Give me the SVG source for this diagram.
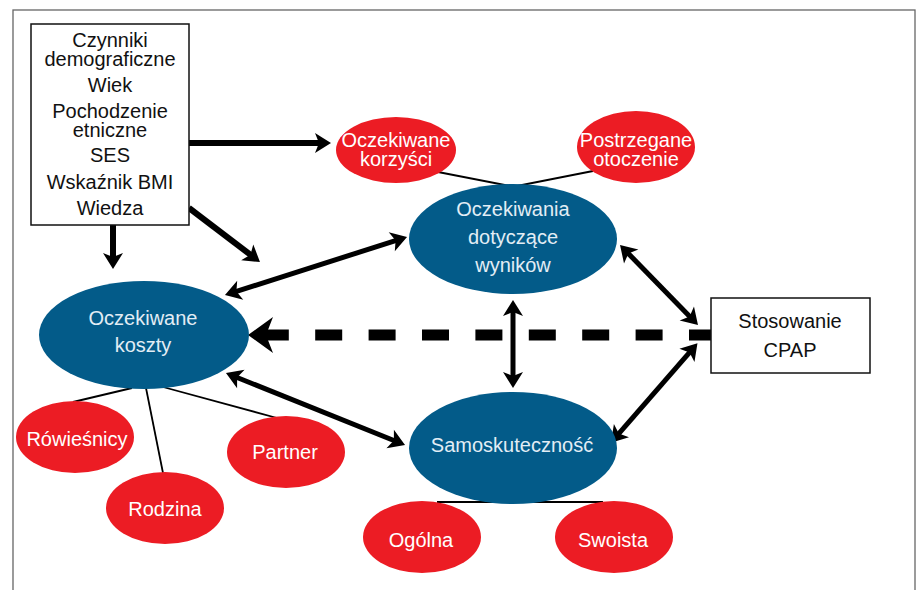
<svg xmlns="http://www.w3.org/2000/svg" width="920" height="590" viewBox="0 0 920 590">
<defs>
<style>
text{font-family:"Liberation Sans",Arial,sans-serif;font-size:20px;text-anchor:middle}
.box{fill:#fff;stroke:#111;stroke-width:1.5}
.blue{fill:#035b89}
.red{fill:#ec1c24}
.tb{fill:#e2edf5}
.tr{fill:#fff}
.tk{fill:#111}
.thin{stroke:#000;stroke-width:1.8;fill:none}
.arr{stroke:#000;stroke-width:6;fill:none;marker-end:url(#ah)}
.bi{stroke:#000;stroke-width:5;fill:none;marker-end:url(#ah);marker-start:url(#ahs)}
</style>
<marker id="ah" markerUnits="userSpaceOnUse" viewBox="0 -12 18 24" markerWidth="18" markerHeight="24" refX="8" refY="0" orient="auto" overflow="visible">
<path d="M16,0 L0,-10 L4,0 L0,10 Z" fill="#000"/>
</marker>
<marker id="ahs" markerUnits="userSpaceOnUse" viewBox="0 -12 18 24" markerWidth="18" markerHeight="24" refX="8" refY="0" orient="auto-start-reverse" overflow="visible">
<path d="M16,0 L0,-10 L4,0 L0,10 Z" fill="#000"/>
</marker>
<marker id="ahBig" markerUnits="userSpaceOnUse" viewBox="0 -20 28 40" markerWidth="28" markerHeight="40" refX="11" refY="0" orient="auto" overflow="visible">
<path d="M25,0 L0,-18 L7,0 L0,18 Z" fill="#000"/>
</marker>
</defs>
<rect x="13" y="10" width="902" height="600" fill="#fff" stroke="#666" stroke-width="1.3"/>

<g id="connectors">
<line class="thin" x1="438" y1="172" x2="510" y2="186"/>
<line class="thin" x1="593" y1="171" x2="517" y2="186"/>
<line class="thin" x1="132" y1="388" x2="73" y2="402"/>
<line class="thin" x1="146" y1="388" x2="163" y2="473"/>
<line class="thin" x1="163" y1="387" x2="277" y2="418"/>
<line class="thin" x1="437" y1="502" x2="603" y2="502"/>
<path class="arr" d="M189,143 H323"/>
<path class="arr" d="M113,225 V261"/>
<path class="arr" d="M189,208 L253.6,257.2"/>
<path class="bi" d="M232.6,292.6 L399.4,239.4"/>
<path class="bi" d="M233.4,376 L397.6,442"/>
<path class="bi" d="M513,308 V380"/>
<path class="bi" d="M625.6,250.7 L692.4,319.3"/>
<path class="bi" d="M692.2,349.4 L616.2,436.6"/>
<path d="M716,335 H262" stroke="#000" stroke-width="11" stroke-dasharray="27 26.4" fill="none" marker-end="url(#ahBig)"/>
</g>

<g id="demografia">
<rect class="box" x="31" y="24" width="158" height="201"/>
<text class="tk" x="110" y="47">Czynniki</text>
<text class="tk" x="110" y="66">demograficzne</text>
<text class="tk" x="110" y="92">Wiek</text>
<text class="tk" x="110" y="118">Pochodzenie</text>
<text class="tk" x="110" y="137">etniczne</text>
<text class="tk" x="110" y="162">SES</text>
<text class="tk" x="110" y="189">Wskaźnik BMI</text>
<text class="tk" x="110" y="215">Wiedza</text>
</g>

<g id="korzysci">
<ellipse class="red" cx="396" cy="150" rx="60" ry="33"/>
<text class="tr" x="396" y="147">Oczekiwane</text>
<text class="tr" x="396" y="166">korzyści</text>
</g>

<g id="otoczenie">
<ellipse class="red" cx="636" cy="147" rx="59" ry="36"/>
<text class="tr" x="636" y="147">Postrzegane</text>
<text class="tr" x="636" y="166">otoczenie</text>
</g>

<g id="wyniki">
<ellipse class="blue" cx="513" cy="239" rx="104" ry="55"/>
<text class="tb" x="513" y="216">Oczekiwania</text>
<text class="tb" x="513" y="244">dotyczące</text>
<text class="tb" x="513" y="272">wyników</text>
</g>

<g id="koszty">
<ellipse class="blue" cx="144" cy="335" rx="105" ry="54"/>
<text class="tb" x="143" y="325">Oczekiwane</text>
<text class="tb" x="143" y="352">koszty</text>
</g>

<g id="rowiesnicy">
<ellipse class="red" cx="75" cy="437" rx="59" ry="36"/>
<text class="tr" x="77" y="446">Rówieśnicy</text>
</g>

<g id="rodzina">
<ellipse class="red" cx="165" cy="508" rx="59" ry="36"/>
<text class="tr" x="165" y="516">Rodzina</text>
</g>

<g id="partner">
<ellipse class="red" cx="286" cy="452" rx="59" ry="36"/>
<text class="tr" x="285" y="459">Partner</text>
</g>

<g id="samoskutecznosc">
<ellipse class="blue" cx="513" cy="448" rx="104" ry="56"/>
<text class="tb" x="512" y="452">Samoskuteczność</text>
</g>

<g id="ogolna">
<ellipse class="red" cx="422" cy="537" rx="59" ry="36"/>
<text class="tr" x="421" y="547">Ogólna</text>
</g>

<g id="swoista">
<ellipse class="red" cx="614" cy="537" rx="59" ry="36"/>
<text class="tr" x="613" y="547">Swoista</text>
</g>

<g id="cpap">
<rect class="box" x="711" y="298" width="159" height="75"/>
<text class="tk" x="790" y="328">Stosowanie</text>
<text class="tk" x="790" y="357">CPAP</text>
</g>
</svg>
